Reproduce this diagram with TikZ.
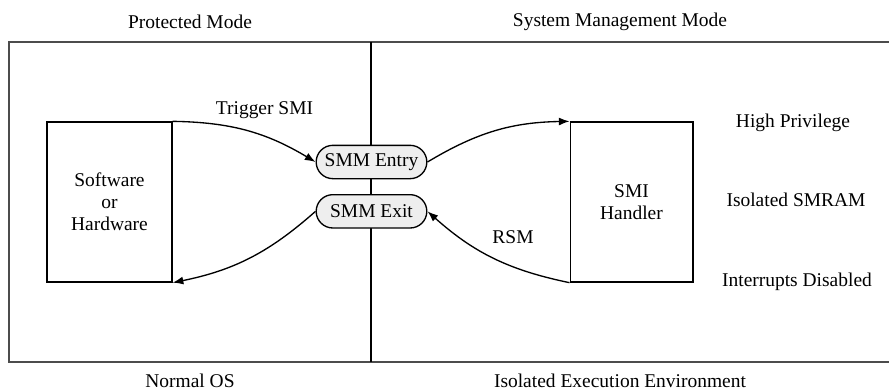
\documentclass[tikz,border=0pt]{standalone}
\usepackage{fontspec}
\setmainfont{Liberation Serif}
\usetikzlibrary{arrows.meta}
\usetikzlibrary{positioning}

\begin{document}
\begin{tikzpicture}[x=0.75pt, y=0.75pt, -{Latex[length=8pt, width=6pt]}, line width=1pt,
        font=\rmfamily\fontsize{14.6}{16.5}\selectfont,
        block/.style={draw, -, minimum width=93.75pt, minimum height=120pt, align=center},
        pill/.style={draw, -, fill=gray!13, rounded corners=12.5pt, minimum width=83pt,
            minimum height=25pt, inner sep=0pt},
        frame/.style={-, draw=black!70, line width=1.4pt}]
        \useasboundingbox (0,0) rectangle (889,390);

        % outer frame and mode divider
        \draw[frame] (889,348) -- (9,348) -- (9,28) -- (889,28);
        \draw[-, line width=0.8pt] (371,348) -- (371,28);

        \node[block] (src) at (109.5,188) {Software\\or\\Hardware};
        \node[block, minimum width=92pt] (smi) at (631.5,188) {SMI\\Handler};
        \node[pill] (entry) at (371.5,228) {SMM Entry};
        \node[pill] (exit) [below=11pt of entry] {SMM Exit};

        \node (trig) at (264.5,280) {Trigger SMI};
        \node (rsm) at (513,153) {RSM};

        \node (prot) at (190,368) {Protected Mode};
        \node (smm) at (620,368) {System Management Mode};
        \node (os) at (190,9) {Normal OS};
        \node (iso) at (620,9) {Isolated Execution Environment};

        \node (priv) at (793,267) {High Privilege};
        \node (ram) at (796,190) {Isolated SMRAM};
        \node (irq) at (797,108) {Interrupts Disabled};

        \path (src.north east) edge[bend left=15] (entry.west)
              (entry.east) edge[bend left=15] (smi.north west)
              (smi.south west) edge[bend left=15] (exit.east)
              (exit.west) edge[bend left=15] (src.south east);
    \end{tikzpicture}
\end{document}
